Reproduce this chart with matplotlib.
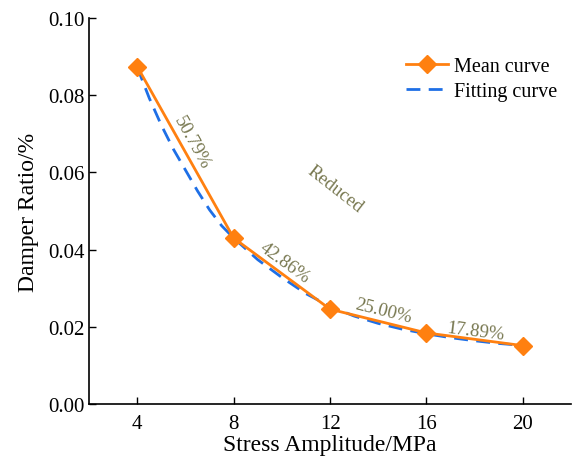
import numpy as np
import matplotlib.pyplot as plt

plt.rcParams['font.family'] = ['Liberation Serif', 'DejaVu Serif']

# data
stress = [4, 8, 12, 16, 20]
mean_ratio = [0.0874, 0.0430, 0.02458, 0.01843, 0.01514]

fit_x = [4, 4.5, 5, 5.5, 6, 6.5, 7, 7.5, 8, 9, 10, 11, 12, 13, 14, 15, 16, 17, 18, 19, 20]
fit_y = [0.0872, 0.0792, 0.0722, 0.0660, 0.0606, 0.0552, 0.0503, 0.0462, 0.0430,
         0.0374, 0.0328, 0.0286, 0.0253, 0.0228, 0.0209, 0.0194, 0.0182, 0.0172,
         0.0164, 0.0157, 0.0152]

reduce_labels = ['50.79%', '42.86%', '25.00%', '17.89%']
label_x = [6.25, 10.1, 14.2, 18.05]
label_y = [0.0679, 0.0368, 0.0241, 0.0189]
label_rot = [-61, -36, -14, -7]

orange = '#ff8010'
blue = '#1e6fe6'
olive = '#77774f'

fig = plt.figure(figsize=(5.75, 4.64), dpi=100)
ax = fig.add_axes([0.155, 0.127, 0.838, 0.832])

ax.plot(fit_x, fit_y, color=blue, lw=2, dashes=(5, 3), label='Fitting curve', zorder=2)
ax.plot(stress, mean_ratio, color=orange, lw=2, marker='D', ms=9, label='Mean curve', zorder=3)

for t, x, y, r in zip(reduce_labels, label_x, label_y, label_rot):
  ax.text(x, y, t, rotation=r, color=olive, fontsize=13.5, ha='center', va='center',
          rotation_mode='anchor')
ax.text(12.2, 0.0557, 'Reduced', rotation=-38, color=olive, fontsize=13.5,
        ha='center', va='center', rotation_mode='anchor')

ax.set_xlim(2, 22)
ax.set_ylim(0, 0.1)
ax.set_xticks(stress)
ax.set_yticks([0, 0.02, 0.04, 0.06, 0.08, 0.10])
ax.set_yticklabels(['0.00', '0.02', '0.04', '0.06', '0.08', '0.10'])
ax.tick_params(direction='in', labelsize=15, length=5, width=1)
ax.tick_params(axis='x', pad=7)
ax.spines['top'].set_visible(False)
ax.spines['right'].set_visible(False)
for s in ['left', 'bottom']:
  ax.spines[s].set_linewidth(1.2)
ax.set_xlabel('Stress Amplitude/MPa', fontsize=17, labelpad=1)
ax.set_ylabel('Damper Ratio/%', fontsize=17, labelpad=6)

h, l = ax.get_legend_handles_labels()
ax.legend(h[::-1], l[::-1], loc='upper right', bbox_to_anchor=(1.01, 0.945), frameon=False,
          fontsize=14.5, handlelength=2.1, handletextpad=0.3, labelspacing=0.25)

fig.savefig('out.png', dpi=100)
